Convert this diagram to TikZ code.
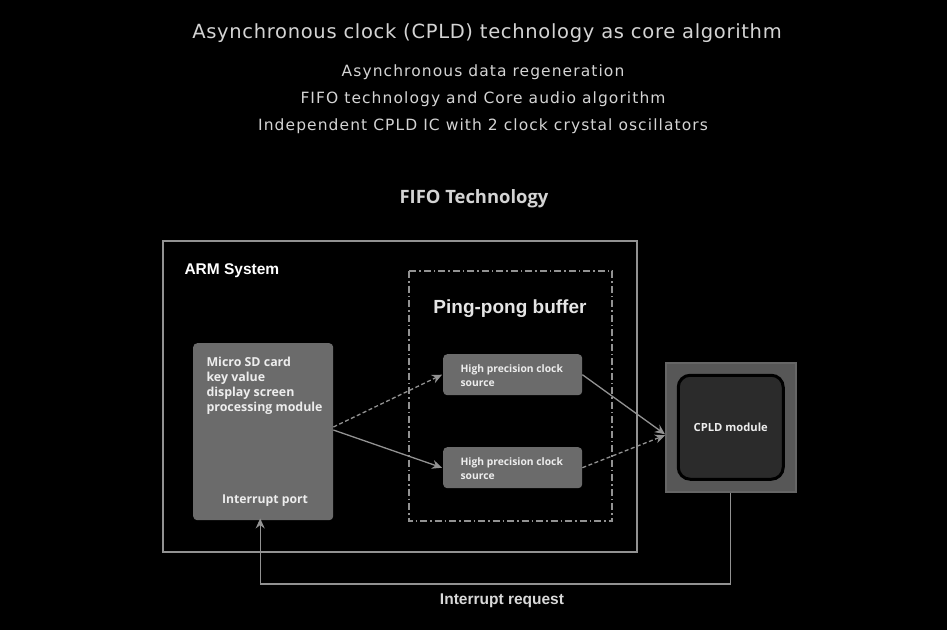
\documentclass[tikz,border=0pt]{standalone}
\usepackage{fontspec}
\setmainfont{DejaVu Sans}
\newfontfamily\arialfont{Liberation Sans}
\newfontfamily\opensans{Open Sans}
\usetikzlibrary{arrows.meta,positioning}
\definecolor{linea}{HTML}{929292}
\definecolor{caja}{HTML}{6B6B6B}
\definecolor{texto}{HTML}{D4D4D4}
\definecolor{chip}{HTML}{575757}
\definecolor{nucleo}{HTML}{2B2B2B}
\tikzset{
  flecha/.style={-{Stealth[length=10pt,width=9pt]}, linea, line width=1.3pt},
  bloque/.style={fill=caja, rounded corners=4pt, inner sep=0pt, anchor=north west},
  blanco/.style={text=white!93!black, font=\opensans\bfseries, align=left},
}
\begin{document}
\begin{tikzpicture}[x=1pt, y=-1pt]
            % Fondo negro
            \fill[black] (0,0) rectangle (947,630);
            \useasboundingbox (0,0) rectangle (947,630);

            % Titulos superiores
            \node[texto, font=\addfontfeature{LetterSpace=3.5}\fontsize{19.5}{22}\selectfont] (titulo) at (487,33) {Asynchronous clock (CPLD) technology as core algorithm};
            \node[texto, font=\addfontfeature{LetterSpace=7}\fontsize{15.5}{18}\selectfont] (lin1) at (483,72) {Asynchronous data regeneration};
            \node[texto, font=\addfontfeature{LetterSpace=7}\fontsize{15.5}{18}\selectfont] (lin2) at (483,99) {FIFO technology and Core audio algorithm};
            \node[texto, font=\addfontfeature{LetterSpace=7}\fontsize{15.5}{18}\selectfont] (lin3) at (483,126) {Independent CPLD IC with 2 clock crystal oscillators};
            \node[texto, font=\opensans\bfseries\fontsize{18.4}{21}\selectfont] (fifo) at (474,199) {FIFO Technology};

            % Sistema ARM
            \draw[linea, line width=2pt] (163,241) rectangle (637,552);
            \node[white, font=\arialfont\bfseries\fontsize{15.5}{18}\selectfont, anchor=west] (arm) at (181,271) {ARM System};

            % Buffer ping-pong (punto y raya)
            \draw[linea, line width=1.1pt, dash pattern=on 7pt off 3pt on 1.5pt off 3pt] (409,271) rectangle (612,521);
            \node[white!90!black, font=\arialfont\bfseries\fontsize{19}{22}\selectfont] (ping) at (510,309) {Ping-pong buffer};

            % Modulo Micro SD
            \node[bloque, minimum width=140pt, minimum height=177pt] (sd) at (193,343) {};
            \node[blanco, font=\opensans\bfseries\fontsize{12.4}{14.7}\selectfont, anchor=north west] (sdtxt) at (203,354) {Micro SD card\\key value\\display screen\\processing module};
            \node[blanco, font=\opensans\bfseries\fontsize{12.2}{14}\selectfont] (puerto) at (265,501) {Interrupt port};

            % Fuentes de reloj
            \node[bloque, minimum width=139pt, minimum height=41pt] (reloj1) at (443,354) {};
            \node[blanco, font=\opensans\bfseries\fontsize{10.3}{13.5}\selectfont, anchor=west] at (reloj1.west) [xshift=14pt, yshift=-1pt] {High precision clock\\source};
            \node[bloque, minimum width=139pt, minimum height=41pt] (reloj2) at (443,447) {};
            \node[blanco, font=\opensans\bfseries\fontsize{10.3}{13.5}\selectfont, anchor=west] at (reloj2.west) [xshift=14pt, yshift=-1pt] {High precision clock\\source};

            % Modulo CPLD
            \node[fill=chip, draw=linea!70!black, line width=1.5pt, minimum width=130pt, minimum height=129pt, inner sep=0pt, anchor=north west] (cpld) at (665,362) {};
            \node[fill=nucleo, draw=black, line width=3pt, rounded corners=12pt, minimum width=105pt, minimum height=104pt] (nucleo) at (cpld.center) {};
            \node[blanco, font=\opensans\bfseries\fontsize{11.2}{13}\selectfont] (cpldtxt) at (cpld.center) {CPLD module};

            % Flechas de datos
            \draw[flecha, dash pattern=on 4pt off 2.5pt] ([yshift=-84pt]sd.north east) -- ([xshift=-1pt]reloj1.west);
            \draw[flecha] ([yshift=-87pt]sd.north east) -- ([xshift=-1pt]reloj2.west);
            \draw[flecha] (reloj1.east) -- ([yshift=-7pt]cpld.west);
            \draw[flecha, dash pattern=on 4pt off 2.5pt] (reloj2.east) -- ([yshift=-8pt]cpld.west);

            % Peticion de interrupcion
            \coordinate (esq1) at (cpld.south |- 0,584);
            \draw[flecha] (cpld.south) -- (esq1) -| ([xshift=-3pt, yshift=2pt]sd.south);
            \node[white!85!black, font=\arialfont\bfseries\fontsize{15.5}{18}\selectfont] (irq) at (502,601) {Interrupt request};
        \end{tikzpicture}
\end{document}
